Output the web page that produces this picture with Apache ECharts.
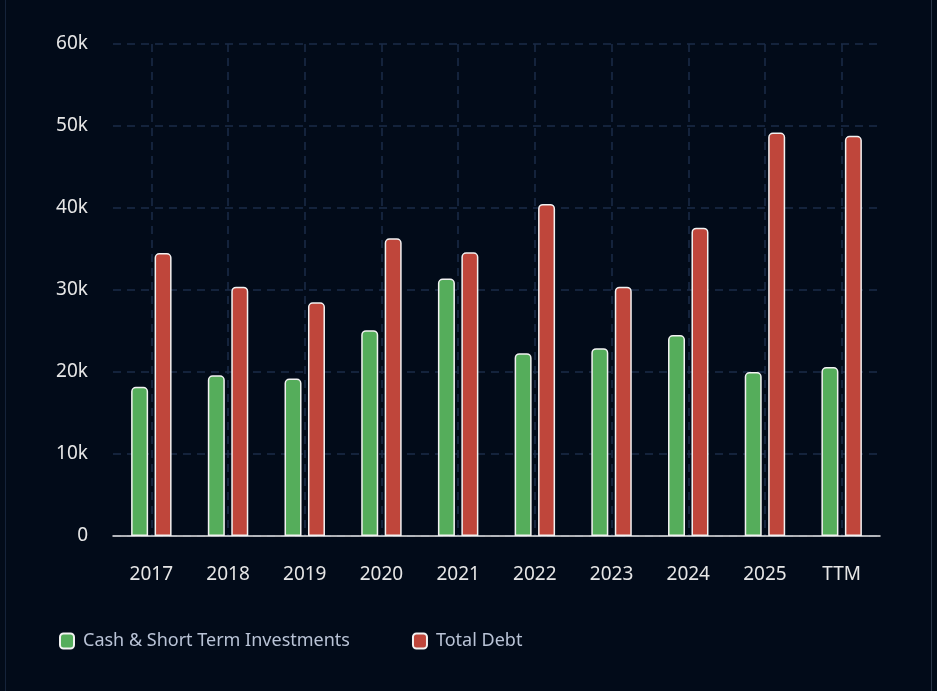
<!DOCTYPE html>
<html>
<head>
<meta charset="utf-8">
<style>
html,body{margin:0;padding:0;background:#020b19;}
#wrap{position:absolute;left:0;top:0;width:937px;height:691px;}
#lb{position:absolute;left:5px;top:0;width:1px;height:691px;background:#15233a;}
#rb{position:absolute;left:931px;top:0;width:1px;height:691px;background:#2a3548;}
#chart{position:absolute;left:0;top:0;width:937px;height:691px;}
</style>
<script src="https://cdn.jsdelivr.net/npm/echarts@6/dist/echarts.min.js"></script>
</head>
<body>
<div id="wrap"><div id="lb"></div><div id="rb"></div><div id="chart"></div></div>
<script>
const categories = ['2017','2018','2019','2020','2021','2022','2023','2024','2025','TTM'];
const cashValues = [18200, 19600, 19200, 25100, 31400, 22300, 22900, 24500, 20000, 20600];
const debtValues = [34500, 30400, 28500, 36300, 34600, 40500, 30400, 37600, 49200, 48800];
const yTicks = [0, 10000, 20000, 30000, 40000, 50000, 60000];
const seriesNames = ['Cash & Short Term Investments', 'Total Debt'];

const font = 'Noto Sans';
const chart = echarts.init(document.getElementById('chart'), null, {renderer: 'canvas'});
chart.setOption({
  backgroundColor: 'transparent',
  animation: false,
  grid: {left: 113, right: 57, top: 44, bottom: 155, containLabel: false},
  legend: {
    data: seriesNames,
    left: 54, top: 627,
    itemWidth: 14, itemHeight: 15, itemGap: 62,
    icon: 'roundRect',
    textStyle: {color: '#b9c3d6', fontSize: 18, fontFamily: font, padding: [0,0,0,4]}
  },
  xAxis: {
    type: 'category',
    data: categories,
    axisLine: {lineStyle: {color: '#e8e8e8', width: 1.5}},
    axisTick: {alignWithLabel: true, length: 8, lineStyle: {color: '#e8e8e8', width: 1.5}},
    axisLabel: {color: '#e6e6e6', fontSize: 19, fontFamily: font, margin: 29},
    splitLine: {show: true, alignWithLabel: true, lineStyle: {color: '#1b2d48', type: [8, 6], width: 1.5}}
  },
  yAxis: {
    type: 'value',
    min: yTicks[0], max: yTicks[yTicks.length - 1], interval: 10000,
    axisLine: {show: false},
    axisTick: {show: false},
    axisLabel: {color: '#e6e6e6', fontSize: 19, fontFamily: font, margin: 25,
      formatter: v => v === 0 ? '0' : (v / 1000) + 'k'},
    splitLine: {lineStyle: {color: '#1b2d48', type: [8, 6], width: 1.5}}
  },
  series: [
    {
      name: seriesNames[0], type: 'bar', data: cashValues,
      barWidth: 17, barGap: '38%',
      itemStyle: {color: '#55ad5b', borderColor: '#f2f2f2', borderWidth: 1.5, borderRadius: [4, 4, 0, 0]}
    },
    {
      name: seriesNames[1], type: 'bar', data: debtValues,
      barWidth: 17, barGap: '38%',
      itemStyle: {color: '#bf463b', borderColor: '#f2f2f2', borderWidth: 1.5, borderRadius: [4, 4, 0, 0]}
    }
  ]
});
</script>
</body>
</html>
